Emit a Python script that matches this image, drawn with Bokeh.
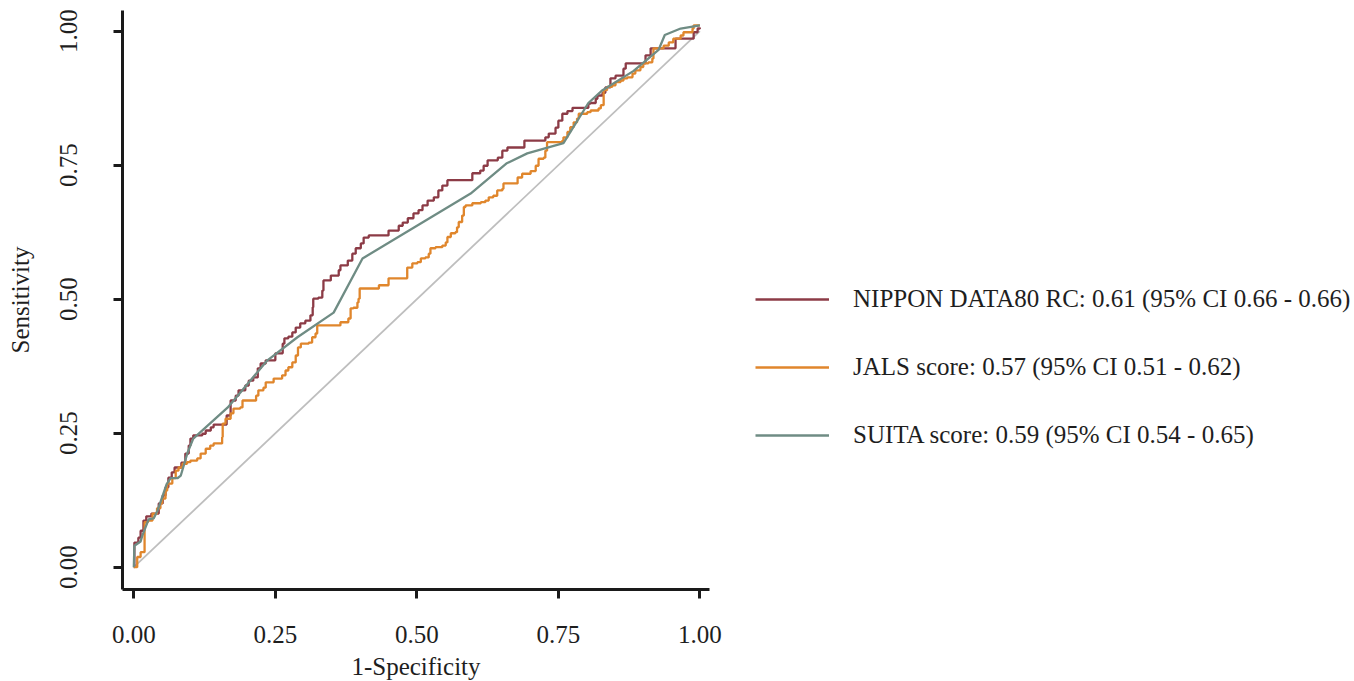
from bokeh.plotting import figure
from bokeh.models import Range1d, Legend, LegendItem, FixedTicker
from bokeh.embed import file_html
from bokeh.resources import INLINE

# ---- data ----
nippon_fpr = [0, 0.001, 0.008, 0.012, 0.017, 0.022, 0.031, 0.044, 0.051, 0.056, 0.061, 0.067, 0.072, 0.084, 0.091,
              0.097, 0.100, 0.105, 0.121, 0.127, 0.136, 0.141, 0.164, 0.171, 0.180, 0.185, 0.197, 0.203, 0.211, 0.219,
              0.224, 0.233, 0.250, 0.263, 0.266, 0.273, 0.280, 0.286, 0.294, 0.303, 0.312, 0.316, 0.317, 0.326, 0.333,
              0.335, 0.348, 0.362, 0.365, 0.378, 0.386, 0.392, 0.401, 0.406, 0.415, 0.450, 0.468, 0.475, 0.484, 0.494,
              0.503, 0.510, 0.519, 0.530, 0.538, 0.545, 0.554, 0.598, 0.612, 0.618, 0.625, 0.643, 0.651, 0.660, 0.690,
              0.727, 0.733, 0.745, 0.750, 0.757, 0.766, 0.775, 0.803, 0.807, 0.816, 0.819, 0.828, 0.833, 0.842, 0.851,
              0.865, 0.869, 0.904, 0.913, 0.957, 0.989, 0.996, 1.0]
nippon_tpr = [0, 0.046, 0.055, 0.068, 0.087, 0.095, 0.100, 0.119, 0.134, 0.149, 0.167, 0.177, 0.186, 0.195, 0.212,
              0.227, 0.240, 0.246, 0.249, 0.255, 0.261, 0.266, 0.283, 0.311, 0.320, 0.330, 0.339, 0.348, 0.354, 0.371,
              0.380, 0.386, 0.399, 0.417, 0.427, 0.430, 0.438, 0.447, 0.455, 0.460, 0.470, 0.485, 0.501, 0.503, 0.516,
              0.535, 0.544, 0.554, 0.563, 0.572, 0.585, 0.595, 0.604, 0.615, 0.619, 0.628, 0.637, 0.643, 0.651, 0.660,
              0.666, 0.675, 0.684, 0.690, 0.703, 0.712, 0.722, 0.735, 0.740, 0.749, 0.759, 0.764, 0.777, 0.783, 0.796,
              0.802, 0.809, 0.820, 0.833, 0.846, 0.851, 0.857, 0.865, 0.866, 0.874, 0.880, 0.885, 0.895, 0.912, 0.917,
              0.930, 0.940, 0.955, 0.968, 0.986, 0.998, 1.005, 1.007]

jals_fpr = [0, 0.006, 0.012, 0.019, 0.025, 0.033, 0.041, 0.047, 0.050, 0.056,
            0.059, 0.068, 0.074, 0.079, 0.086, 0.094, 0.100, 0.112, 0.118, 0.127,
            0.135, 0.141, 0.156, 0.157, 0.162, 0.171, 0.176, 0.188, 0.192, 0.216,
            0.220, 0.229, 0.233, 0.247, 0.262, 0.268, 0.273, 0.280, 0.286, 0.290,
            0.295, 0.309, 0.315, 0.321, 0.324, 0.365, 0.379, 0.383, 0.388, 0.395,
            0.397, 0.399, 0.433, 0.450, 0.483, 0.492, 0.501, 0.507, 0.515, 0.521,
            0.524, 0.533, 0.545, 0.551, 0.554, 0.560, 0.568, 0.571, 0.574, 0.580,
            0.583, 0.586, 0.598, 0.613, 0.621, 0.627, 0.635, 0.642, 0.651, 0.653,
            0.678, 0.686, 0.701, 0.710, 0.715, 0.724, 0.727, 0.730, 0.757, 0.759,
            0.766, 0.771, 0.777, 0.783, 0.786, 0.801, 0.807, 0.821, 0.825, 0.830,
            0.836, 0.845, 0.851, 0.860, 0.865, 0.872, 0.881, 0.886, 0.895, 0.900,
            0.909, 0.916, 0.918, 0.936, 0.945, 0.953, 0.966, 0.971, 0.987, 0.989,
            1.0]
jals_tpr = [0, 0.019, 0.028, 0.084, 0.087, 0.100, 0.110, 0.119, 0.128, 0.143,
            0.156, 0.166, 0.180, 0.186, 0.193, 0.196, 0.199, 0.203, 0.212, 0.221,
            0.227, 0.231, 0.243, 0.268, 0.277, 0.287, 0.296, 0.298, 0.311, 0.320,
            0.330, 0.335, 0.345, 0.352, 0.358, 0.367, 0.373, 0.382, 0.395, 0.410,
            0.417, 0.419, 0.429, 0.436, 0.451, 0.457, 0.464, 0.483, 0.484, 0.494,
            0.501, 0.520, 0.526, 0.539, 0.559, 0.567, 0.569, 0.576, 0.578, 0.585,
            0.595, 0.597, 0.600, 0.606, 0.616, 0.623, 0.625, 0.634, 0.644, 0.656,
            0.672, 0.675, 0.679, 0.681, 0.684, 0.690, 0.693, 0.703, 0.706, 0.716,
            0.727, 0.734, 0.739, 0.749, 0.762, 0.764, 0.777, 0.793, 0.796, 0.802,
            0.812, 0.821, 0.830, 0.837, 0.846, 0.849, 0.852, 0.856, 0.862, 0.890,
            0.896, 0.899, 0.905, 0.908, 0.912, 0.914, 0.921, 0.927, 0.933, 0.940,
            0.942, 0.949, 0.968, 0.973, 0.979, 0.986, 0.992, 0.998, 1.005, 1.011,
            1.011]

suita_fpr = [0, 0.001, 0.012, 0.015, 0.026, 0.035, 0.042, 0.058, 0.065, 0.077,
             0.083, 0.095, 0.105, 0.166, 0.236, 0.289, 0.353, 0.404, 0.595, 0.658,
             0.695, 0.759, 0.803, 0.828, 0.883, 0.927, 0.938, 0.966, 1.0]
suita_tpr = [0, 0.040, 0.048, 0.059, 0.089, 0.091, 0.106, 0.155, 0.166, 0.166,
             0.171, 0.214, 0.240, 0.298, 0.386, 0.429, 0.475, 0.576, 0.697, 0.753,
             0.772, 0.791, 0.866, 0.890, 0.926, 0.965, 0.993, 1.005, 1.011]

diag_x = [0, 1]
diag_y = [0, 1]

tick_values = [0, 0.25, 0.5, 0.75, 1.0]
tick_labels = ["0.00", "0.25", "0.50", "0.75", "1.00"]

legend_labels = ["NIPPON DATA80 RC: 0.61 (95% CI 0.66 - 0.66)",
                 "JALS score: 0.57 (95% CI 0.51 - 0.62)",
                 "SUITA score: 0.59 (95% CI 0.54 - 0.65)"]
colors = ["#8C3B46", "#E0862C", "#6F8C84"]

FONT = "Liberation Serif"
FS = "25px"
TXT = "#1E1E1E"

p = figure(frame_width=587, frame_height=579, output_backend="svg", toolbar_location=None,
           x_range=Range1d(-0.020, 1.017), y_range=Range1d(-0.0416, 1.0386),
           min_border_left=122, min_border_right=643, min_border_top=10, min_border_bottom=91)
p.outline_line_color = None
p.background_fill_color = "white"
p.border_fill_color = "white"
p.xgrid.visible = False
p.ygrid.visible = False

p.line(diag_x, diag_y, line_color="#BEBEBE", line_width=1.8)
r1 = p.step(nippon_fpr, nippon_tpr, mode="after", line_color=colors[0], line_width=2.3)
r2 = p.step(jals_fpr, jals_tpr, mode="after", line_color=colors[1], line_width=2.3)
r3 = p.line(suita_fpr, suita_tpr, line_color=colors[2], line_width=2.3)

for ax in (p.xaxis[0], p.yaxis[0]):
    ax.ticker = FixedTicker(ticks=tick_values)
    ax.major_label_overrides = {v: l for v, l in zip(tick_values, tick_labels)}
    ax.axis_line_width = 3
    ax.axis_line_color = "#1A1A1A"
    ax.major_tick_line_width = 3
    ax.major_tick_line_color = "#1A1A1A"
    ax.major_tick_out = 9
    ax.major_tick_in = 0
    ax.minor_tick_line_color = None
    ax.major_label_text_font = FONT
    ax.major_label_text_font_size = FS
    ax.major_label_text_color = TXT
    ax.axis_label_text_font = FONT
    ax.axis_label_text_font_size = FS
    ax.axis_label_text_font_style = "normal"
    ax.axis_label_text_color = TXT

p.xaxis.axis_label = "1-Specificity"
p.yaxis.axis_label = "Sensitivity"
p.yaxis.major_label_orientation = "vertical"
p.xaxis.major_label_standoff = 27
p.yaxis.major_label_standoff = 36
p.xaxis.axis_label_standoff = 7
p.yaxis.axis_label_standoff = 24

legend = Legend(items=[LegendItem(label=legend_labels[0], renderers=[r1]),
                       LegendItem(label=legend_labels[1], renderers=[r2]),
                       LegendItem(label=legend_labels[2], renderers=[r3])],
                location=(46, 139), orientation="vertical",
                glyph_width=74, glyph_height=30, label_height=30, spacing=38,
                label_standoff=24, padding=0, margin=0,
                border_line_color=None, background_fill_alpha=0,
                label_text_font=FONT, label_text_font_size=FS, label_text_color=TXT)
p.add_layout(legend, "right")

open("out.html", "w").write(file_html(p, INLINE))
